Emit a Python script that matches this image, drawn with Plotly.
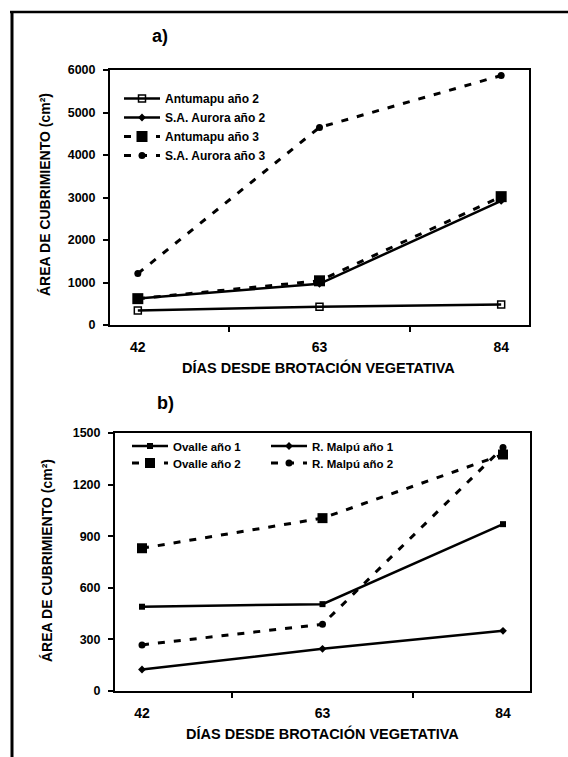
import plotly.graph_objects as go

W, H = 568, 757

days = ["42", "63", "84"]

# Panel a
antumapu_2 = [340, 430, 480]
aurora_2 = [625, 970, 2920]
antumapu_3 = [620, 1040, 3020]
aurora_3 = [1210, 4650, 5870]

# Panel b
ovalle_1 = [490, 505, 970]
malpu_1 = [125, 245, 350]
ovalle_2 = [830, 1005, 1375]
malpu_2 = [268, 388, 1415]

FONT = "Liberation Sans, Arial, sans-serif"
DASH = "7px,9px"


def px(x):
    return x / W


def py(y):
    return 1 - y / H


fig = go.Figure()

# ---- panel a traces
fig.add_trace(go.Scatter(x=days, y=antumapu_2, name="Antumapu año 2", mode="lines+markers",
                         line=dict(color="black", width=2.5),
                         marker=dict(symbol="square-open", size=7, color="black", line=dict(width=1.5)),
                         xaxis="x", yaxis="y", legend="legend"))
fig.add_trace(go.Scatter(x=days, y=aurora_2, name="S.A. Aurora año 2", mode="lines+markers",
                         line=dict(color="black", width=2.5),
                         marker=dict(symbol="diamond", size=6, color="black"),
                         xaxis="x", yaxis="y", legend="legend"))
fig.add_trace(go.Scatter(x=days, y=antumapu_3, name="Antumapu año 3", mode="lines+markers",
                         line=dict(color="black", width=3, dash=DASH),
                         marker=dict(symbol="square", size=11, color="black"),
                         xaxis="x", yaxis="y", legend="legend"))
fig.add_trace(go.Scatter(x=days, y=aurora_3, name="S.A. Aurora año 3", mode="lines+markers",
                         line=dict(color="black", width=3, dash=DASH),
                         marker=dict(symbol="circle", size=7, color="black"),
                         xaxis="x", yaxis="y", legend="legend"))

# ---- panel b traces
fig.add_trace(go.Scatter(x=days, y=ovalle_1, name="Ovalle año 1", mode="lines+markers",
                         line=dict(color="black", width=2.5),
                         marker=dict(symbol="square", size=6, color="black"),
                         xaxis="x2", yaxis="y2", legend="legend2"))
fig.add_trace(go.Scatter(x=days, y=malpu_1, name="R. Malpú año 1", mode="lines+markers",
                         line=dict(color="black", width=2.5),
                         marker=dict(symbol="diamond", size=6, color="black"),
                         xaxis="x2", yaxis="y2", legend="legend3"))
fig.add_trace(go.Scatter(x=days, y=ovalle_2, name="Ovalle año 2", mode="lines+markers",
                         line=dict(color="black", width=3, dash=DASH),
                         marker=dict(symbol="square", size=10, color="black"),
                         xaxis="x2", yaxis="y2", legend="legend4"))
fig.add_trace(go.Scatter(x=days, y=malpu_2, name="R. Malpú año 2", mode="lines+markers",
                         line=dict(color="black", width=3, dash=DASH),
                         marker=dict(symbol="circle", size=7, color="black"),
                         xaxis="x2", yaxis="y2", legend="legend5"))

xcommon = dict(type="category", tickson="boundaries", ticks="outside", ticklen=5, tickwidth=2,
               tickcolor="black", showline=True, linecolor="black", linewidth=2, mirror=True,
               showgrid=False, zeroline=False, tickfont=dict(size=14, family=FONT, color="black"),
               ticklabelstandoff=8, fixedrange=True)
ycommon = dict(ticks="outside", ticklen=5, tickwidth=2, tickcolor="black", showline=True,
               linecolor="black", linewidth=2, mirror=True, showgrid=False, zeroline=False,
               tickfont=dict(size=12.5, family=FONT, color="black"), ticklabelstandoff=5,
               fixedrange=True)

leg_common = dict(bgcolor="rgba(0,0,0,0)", borderwidth=0, xanchor="left", yanchor="middle",
                  orientation="v", itemwidth=36)

fig.update_layout(
    width=W, height=H,
    margin=dict(l=0, r=0, t=0, b=0, autoexpand=False),
    paper_bgcolor="white", plot_bgcolor="white",
    font=dict(family=FONT, color="black", weight="bold"),
    xaxis=dict(domain=[px(110), px(529)], anchor="y", **xcommon),
    yaxis=dict(domain=[py(325), py(70)], anchor="x", range=[0, 6000], dtick=1000, **ycommon),
    xaxis2=dict(domain=[px(115), px(530)], anchor="y2", **xcommon),
    yaxis2=dict(domain=[py(691), py(433)], anchor="x2", range=[0, 1500], dtick=300, **ycommon),
    legend=dict(x=px(119), y=py(127), font=dict(size=12, family=FONT, color="black", weight="bold"),
                tracegroupgap=0, **leg_common),
    legend2=dict(x=px(127), y=py(446), font=dict(size=11.5, family=FONT, color="black", weight="bold"),
                 **leg_common),
    legend3=dict(x=px(266), y=py(446), font=dict(size=11.5, family=FONT, color="black", weight="bold"),
                 **leg_common),
    legend4=dict(x=px(127), y=py(463), font=dict(size=11.5, family=FONT, color="black", weight="bold"),
                 **leg_common),
    legend5=dict(x=px(266), y=py(463), font=dict(size=11.5, family=FONT, color="black", weight="bold"),
                 **leg_common),
    showlegend=True,
)

annots = [
    dict(text="a)", x=px(160), y=py(36), size=18, angle=0),
    dict(text="b)", x=px(165), y=py(403), size=18, angle=0),
    dict(text="DÍAS DESDE BROTACIÓN VEGETATIVA", x=px(318), y=py(367), size=14.5, angle=0),
    dict(text="DÍAS DESDE BROTACIÓN VEGETATIVA", x=px(322), y=py(733), size=14.5, angle=0),
    dict(text="ÁREA DE CUBRIMIENTO (cm²)", x=px(45), y=py(195), size=14, angle=-90),
    dict(text="ÁREA DE CUBRIMIENTO (cm²)", x=px(47), y=py(561), size=14, angle=-90),
]
for a in annots:
    fig.add_annotation(text=a["text"], x=a["x"], y=a["y"], xref="paper", yref="paper",
                       xanchor="center", yanchor="middle", showarrow=False, textangle=a["angle"],
                       font=dict(size=a["size"], family=FONT, color="black", weight="bold"))

# outer frame (top and left edges)
fig.add_shape(type="line", xref="paper", yref="paper", x0=px(10), x1=1, y0=py(12), y1=py(12),
              line=dict(color="black", width=2.5))
fig.add_shape(type="line", xref="paper", yref="paper", x0=px(12), x1=px(12), y0=py(12), y1=0,
              line=dict(color="black", width=3))

fig.write_html("out.html")
